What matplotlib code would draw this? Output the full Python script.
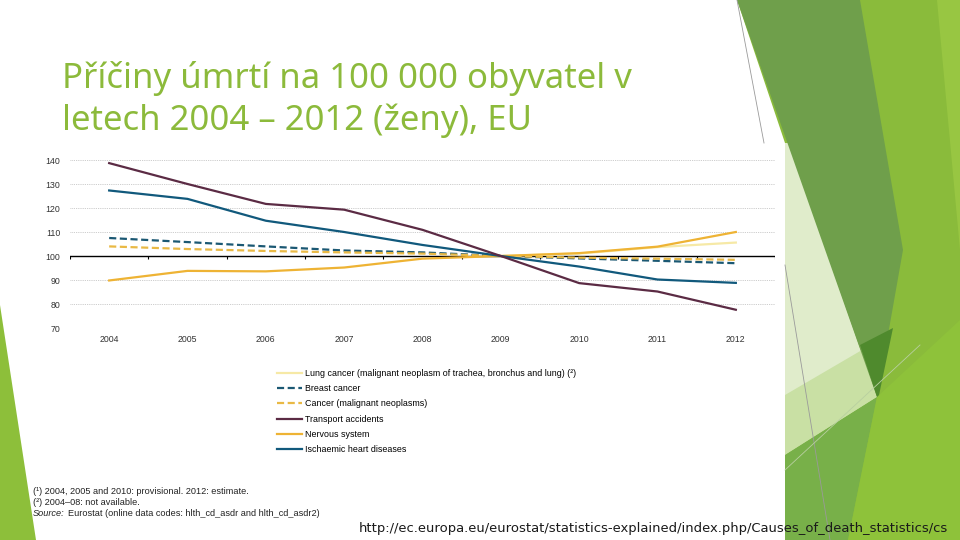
import matplotlib
matplotlib.use('Agg')
import matplotlib.pyplot as plt
from matplotlib.patches import Polygon, Rectangle
from matplotlib.lines import Line2D

# data (index, 2009 = 100)
years = [2004, 2005, 2006, 2007, 2008, 2009, 2010, 2011, 2012]
lung_years = [2009, 2010, 2011, 2012]
lung = [100, 101.0, 103.7, 105.6]
breast = [107.5, 105.8, 104.0, 102.3, 101.5, 100, 99.0, 98.0, 97.0]
cancer = [104.0, 102.9, 102.1, 101.5, 101.0, 100, 99.3, 98.9, 98.4]
transport = [138.7, 130.0, 121.7, 119.3, 110.9, 100, 88.7, 85.2, 77.6]
nervous = [89.8, 93.8, 93.6, 95.2, 98.9, 100, 101.2, 103.9, 110.0]
ischaemic = [127.3, 123.8, 114.7, 110.0, 104.6, 100, 95.6, 90.2, 88.8]

labels = ['Lung cancer (malignant neoplasm of trachea, bronchus and lung) (²)',
          'Breast cancer',
          'Cancer (malignant neoplasms)',
          'Transport accidents',
          'Nervous system',
          'Ischaemic heart diseases']

c_lung = '#F6E9A6'
c_breast = '#1B5873'
c_cancer = '#E9B945'
c_transport = '#5B2B44'
c_nervous = '#EEB334'
c_isch = '#11597C'

fig = plt.figure(figsize=(9.6, 5.4), dpi=100)
fig.patch.set_facecolor('white')

# slide background in pixel coords
bg = fig.add_axes([0, 0, 1, 1], zorder=0)
bg.set_xlim(0, 960)
bg.set_ylim(540, 0)
bg.axis('off')

shapes = [
    ([(737, 0), (960, 0), (960, 540), (785, 540), (785, 143)], '#8ABB3B'),
    ([(937, 0), (960, 0), (960, 250)], '#98C642'),
    ([(785, 143), (789, 143), (877, 397), (785, 455)], '#E0ECCB'),
    ([(785, 395), (862, 350), (877, 397), (785, 455)], '#C9E0A4'),
    ([(737, 0), (860, 0), (903, 250), (877, 397)], '#6F9F4B'),
    ([(860, 345), (893, 328), (878, 400)], '#4F8A2D'),
    ([(785, 455), (877, 397), (848, 540), (785, 540)], '#78B049'),
    ([(877, 397), (960, 320), (960, 540), (848, 540)], '#8EC23A'),
    ([(0, 305), (0, 540), (36, 540)], '#8DBF3A'),
]
for pts, col in shapes:
    bg.add_patch(Polygon(pts, closed=True, facecolor=col, edgecolor='none'))

bg.plot([737, 764], [0, 143], color='#9A9A9A', lw=0.6)
bg.plot([785, 830], [265, 540], color='#9A9A9A', lw=0.6)
bg.plot([785, 920], [470, 345], color='#B8CFA0', lw=0.6)

# white chart picture
bg.add_patch(Rectangle((36, 143), 749, 377, facecolor='white', edgecolor='none'))

# title
title_col = '#8CBA3B'
bg.text(62, 88, 'Příčiny úmrtí na 100 000 obyvatel v', fontsize=25,
        family='Noto Sans', color=title_col, va='baseline', ha='left')
bg.text(62, 130, 'letech 2004 – 2012 (ženy), EU', fontsize=25,
        family='Noto Sans', color=title_col, va='baseline', ha='left')

# url
bg.text(948, 532, 'http://ec.europa.eu/eurostat/statistics-explained/index.php/Causes_of_death_statistics/cs',
        fontsize=9.45, family='DejaVu Sans', color='#1A1A1A', ha='right', va='baseline')

# chart
ax = fig.add_axes([70 / 960, 1 - 328 / 540, 705 / 960, 168 / 540], zorder=2)
ax.set_facecolor('none')
for s in ax.spines.values():
    s.set_visible(False)
ax.set_xlim(years[0] - 0.5, years[-1] + 0.5)
ax.set_ylim(70, 140)
ax.set_yticks(range(70, 141, 10))
ax.set_xticks(years)
ax.tick_params(length=0, labelsize=6.3, colors='#333333')
ax.tick_params(axis='y', pad=7)
ax.tick_params(axis='x', pad=5)
for t in ax.get_xticklabels() + ax.get_yticklabels():
    t.set_family('Liberation Sans')
ax.grid(axis='y', color='#BBBBBB', linestyle=(0, (1, 1.2)), lw=0.6)
ax.set_axisbelow(True)

ax.axhline(100, color='black', lw=1, zorder=1)
bounds = [y - 0.5 for y in years] + [years[-1] + 0.5]
ax.vlines(bounds, 98.8, 100, color='black', lw=0.8, zorder=1)

lw = 1.6
dash = (0, (3.2, 1.6))
ax.plot(years, breast, color=c_breast, lw=lw, ls=dash, zorder=3)
ax.plot(years, cancer, color=c_cancer, lw=lw, ls=dash, zorder=3)
ax.plot(lung_years, lung, color=c_lung, lw=lw, zorder=3.5)
ax.plot(years, nervous, color=c_nervous, lw=lw, zorder=4)
ax.plot(years, ischaemic, color=c_isch, lw=lw, zorder=5)
ax.plot(years, transport, color=c_transport, lw=lw, zorder=6)

handles = [
    Line2D([], [], color=c_lung, lw=lw),
    Line2D([], [], color=c_breast, lw=lw, ls=dash),
    Line2D([], [], color=c_cancer, lw=lw, ls=dash),
    Line2D([], [], color=c_transport, lw=lw),
    Line2D([], [], color=c_nervous, lw=lw),
    Line2D([], [], color=c_isch, lw=lw),
]
fig.legend(handles, labels, loc='upper left', bbox_to_anchor=(277 / 960, 1 - 369 / 540),
           frameon=False, borderpad=0, borderaxespad=0, handlelength=2.8,
           handletextpad=0.3, labelspacing=0.7,
           prop={'family': 'Liberation Sans', 'size': 6.4})

# footnotes
fn = {'fontsize': 6.6, 'family': 'Liberation Sans', 'color': '#222222', 'va': 'baseline'}
bg.text(33, 494, '(¹) 2004, 2005 and 2010: provisional. 2012: estimate.', **fn)
bg.text(33, 505, '(²) 2004–08: not available.', **fn)
src = bg.text(33, 516, 'Source:', style='italic', **fn)
fig.canvas.draw()
ext = src.get_window_extent()
bg.text(33 + ext.width + 3, 516, 'Eurostat (online data codes: hlth_cd_asdr and hlth_cd_asdr2)', **fn)

fig.savefig('out.png', dpi=100, facecolor='white')
